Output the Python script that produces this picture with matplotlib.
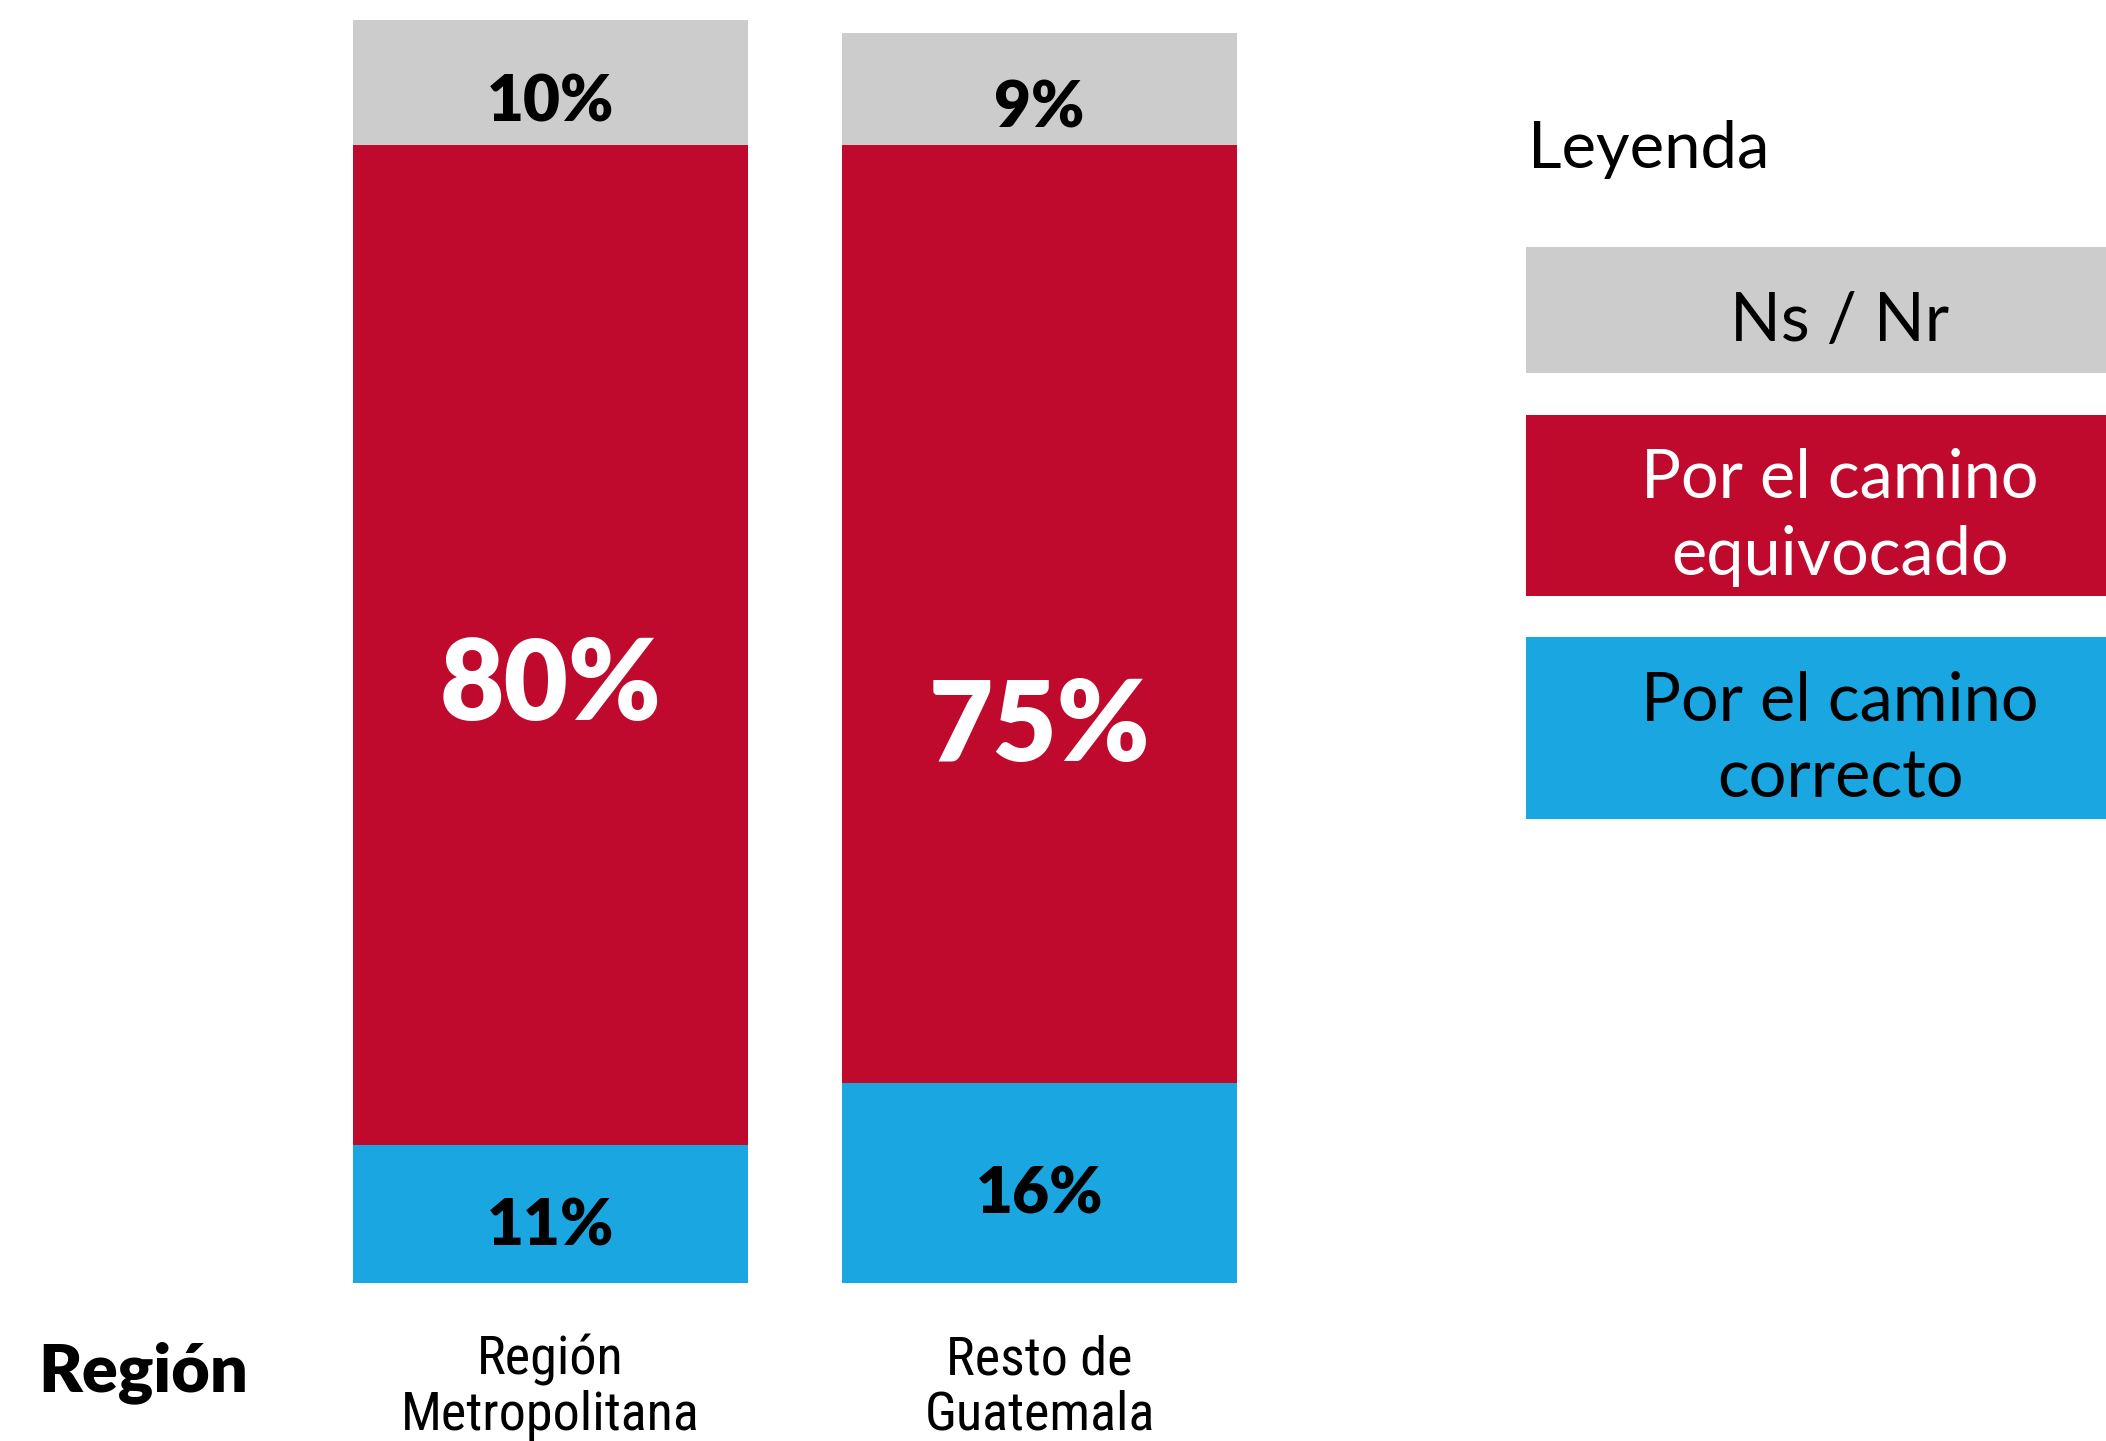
import matplotlib
matplotlib.use('Agg')
import matplotlib.pyplot as plt
from matplotlib import font_manager
from matplotlib.patches import Rectangle
import numpy as np

regions = ['Región\nMetropolitana', 'Resto de\nGuatemala']
correcto = [11, 16]
equivocado = [80, 75]
ns_nr = [10, 9]

legend_names = ['Ns / Nr', 'Por el camino\nequivocado', 'Por el camino\ncorrecto']
colors = ['#CCCCCC', '#BF0A2E', '#1AA7E1']
legend_text_colors = ['black', 'white', 'black']

names = {f.name for f in font_manager.fontManager.ttflist}
main_font = 'Lato' if 'Lato' in names else 'DejaVu Sans'
narrow_font = main_font
for cand in ['Liberation Sans Narrow', 'Roboto Condensed', 'Open Sans Condensed', 'DejaVu Sans Condensed']:
    if cand in names:
        narrow_font = cand
        break
plt.rcParams['font.family'] = [main_font, 'DejaVu Sans']

W, H = 2106, 1441
fig = plt.figure(figsize=(W / 100, H / 100), dpi=100)

# bars
ax = fig.add_axes([306 / W, 158 / H, 978 / W, 1263 / H])
x = np.arange(len(regions))
bw = 395 / 489
bottom_mid = np.array(correcto)
bottom_top = bottom_mid + np.array(equivocado)
ax.bar(x, correcto, bw, color=colors[2])
ax.bar(x, equivocado, bw, bottom=bottom_mid, color=colors[1])
ax.bar(x, ns_nr, bw, bottom=bottom_top, color=colors[0])
ax.set_xlim(-0.5, 1.5)
ax.set_ylim(0, 101)

mid_nudge = [-3.3, -9.1]
for i in x:
    ax.text(i, correcto[i] / 2 - 1.0, f'{correcto[i]}%', ha='center', va='center',
            fontsize=46, fontweight='heavy', color='black')
    ax.text(i, bottom_mid[i] + equivocado[i] / 2 + mid_nudge[i], f'{equivocado[i]}%',
            ha='center', va='center', fontsize=80, fontweight='heavy', color='white')
    ax.text(i, bottom_top[i] + ns_nr[i] / 2 - 1.6, f'{ns_nr[i]}%', ha='center', va='center',
            fontsize=46, fontweight='heavy', color='black')

ax.set_xticks(x, regions, fontfamily=narrow_font, fontsize=39, linespacing=1.1)
ax.tick_params(axis='x', length=0, pad=37)
ax.set_yticks([])
for s in ax.spines.values():
    s.set_visible(False)

fig.text(38 / W, 1 - 1373 / H, 'Región', fontsize=48, fontweight='heavy', va='center', ha='left')

# legend panel
fig.text(1528 / W, 1 - 168 / H, 'Leyenda', fontsize=47, va='baseline', ha='left')
boxes = [(247, 373), (415, 596), (637, 819)]
for (top, bot), name, col, tcol in zip(boxes, legend_names, colors, legend_text_colors):
    fig.add_artist(Rectangle((1526 / W, 1 - bot / H), (W - 1526) / W, (bot - top) / H,
                             transform=fig.transFigure, color=col, lw=0))
    fig.text(1840 / W, 1 - ((top + bot) / 2 + 12) / H, name, fontsize=48, color=tcol,
             ha='center', va='center', linespacing=1.3)

fig.savefig('out.png', dpi=100)
